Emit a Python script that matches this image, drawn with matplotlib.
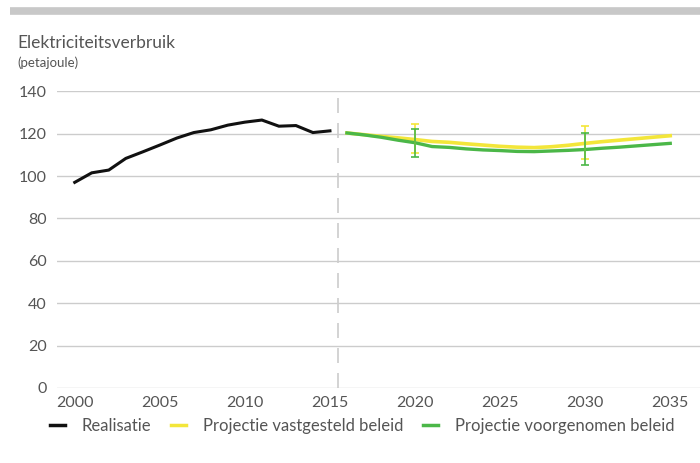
import numpy as np
import matplotlib.pyplot as plt
from matplotlib.lines import Line2D

plt.rcParams['font.family'] = ['Lato', 'DejaVu Sans']

# Electricity use, realised (petajoule)
years_real = list(range(2000, 2016))
realisatie = [97.0, 101.5, 102.8, 108.3, 111.4, 114.6, 117.9, 120.5,
              121.8, 124.0, 125.4, 126.4, 123.5, 123.8, 120.5, 121.3]

# Projections 2016-2035
years_proj = list(range(2016, 2036))
vastgesteld = [120.3, 119.5, 118.7, 118.0, 117.2, 116.3, 115.9, 115.2, 114.6, 114.0,
               113.6, 113.4, 113.8, 114.5, 115.4, 116.2, 116.9, 117.6, 118.3, 119.0]
voorgenomen = [120.3, 119.4, 118.3, 116.9, 115.7, 113.9, 113.5, 112.8, 112.3, 112.0,
               111.6, 111.5, 111.8, 112.1, 112.5, 113.1, 113.6, 114.2, 114.8, 115.4]

# Uncertainty bands (low, high) at the marked years
err_years = [2020, 2030]
vastgesteld_band = [(110.7, 124.3), (107.8, 123.5)]
voorgenomen_band = [(108.8, 122.1), (105.1, 120.5)]

labels = ['Realisatie', 'Projectie vastgesteld beleid', 'Projectie voorgenomen beleid']
yticks = [0, 20, 40, 60, 80, 100, 120, 140]
xticks = [2000, 2005, 2010, 2015, 2020, 2025, 2030, 2035]

black = '#111111'
yellow = '#f3e63a'
green = '#4bb748'
grey_text = '#555555'
grid_grey = '#cccccc'

fig = plt.figure(figsize=(7.0, 4.63), dpi=100)
ax = fig.add_axes([0.081, 0.162, 0.919, 0.641])

# top banner
fig.add_artist(Line2D([10 / 700, 1.0], [1 - 11 / 463] * 2, color='#c8c8c8', lw=5.5,
                      transform=fig.transFigure, solid_capstyle='butt'))

for y in yticks:
    ax.axhline(y, color=grid_grey, lw=1, zorder=0)
ax.axvline(2015.5, color=grid_grey, lw=1.2, dashes=(9, 6), zorder=0)

ax.plot(years_real, realisatie, color=black, lw=2.2, solid_joinstyle='miter')
ax.plot(years_proj, vastgesteld, color=yellow, lw=2.6)
ax.plot(years_proj, voorgenomen, color=green, lw=2.4)

for x, (lo, hi) in zip(err_years, vastgesteld_band):
    mid = (lo + hi) / 2
    ax.errorbar(x, mid, yerr=[[mid - lo], [hi - mid]], fmt='none', ecolor=yellow,
                elinewidth=1.2, capsize=3, capthick=1.2)
for x, (lo, hi) in zip(err_years, voorgenomen_band):
    mid = (lo + hi) / 2
    ax.errorbar(x, mid, yerr=[[mid - lo], [hi - mid]], fmt='none', ecolor=green,
                elinewidth=1.2, capsize=3, capthick=1.2)

ax.set_xlim(1998.94, 2036.75)
ax.set_ylim(0, 140)
ax.set_xticks(xticks)
ax.set_yticks(yticks)
ax.tick_params(axis='both', length=0, labelsize=11.5, colors=grey_text)
ax.tick_params(axis='y', pad=7)
ax.tick_params(axis='x', pad=5.5)
for s in ax.spines.values():
    s.set_visible(False)

fig.text(17 / 700, 1 - 48 / 463, 'Elektriciteitsverbruik', fontsize=12.5,
         color=grey_text, va='baseline', ha='left')
fig.text(17 / 700, 1 - 67 / 463, '(petajoule)', fontsize=9.5,
         color=grey_text, va='baseline', ha='left')

handles = [Line2D([], [], color=c, lw=2.5) for c in (black, yellow, green)]
fig.legend(handles, labels, ncol=3, frameon=False, loc='center left',
           bbox_to_anchor=(0.05, 1 - 426 / 463), fontsize=12, handlelength=0.9,
           handletextpad=1.0, columnspacing=1.2, labelcolor=grey_text)

fig.savefig('out.png', dpi=100)
